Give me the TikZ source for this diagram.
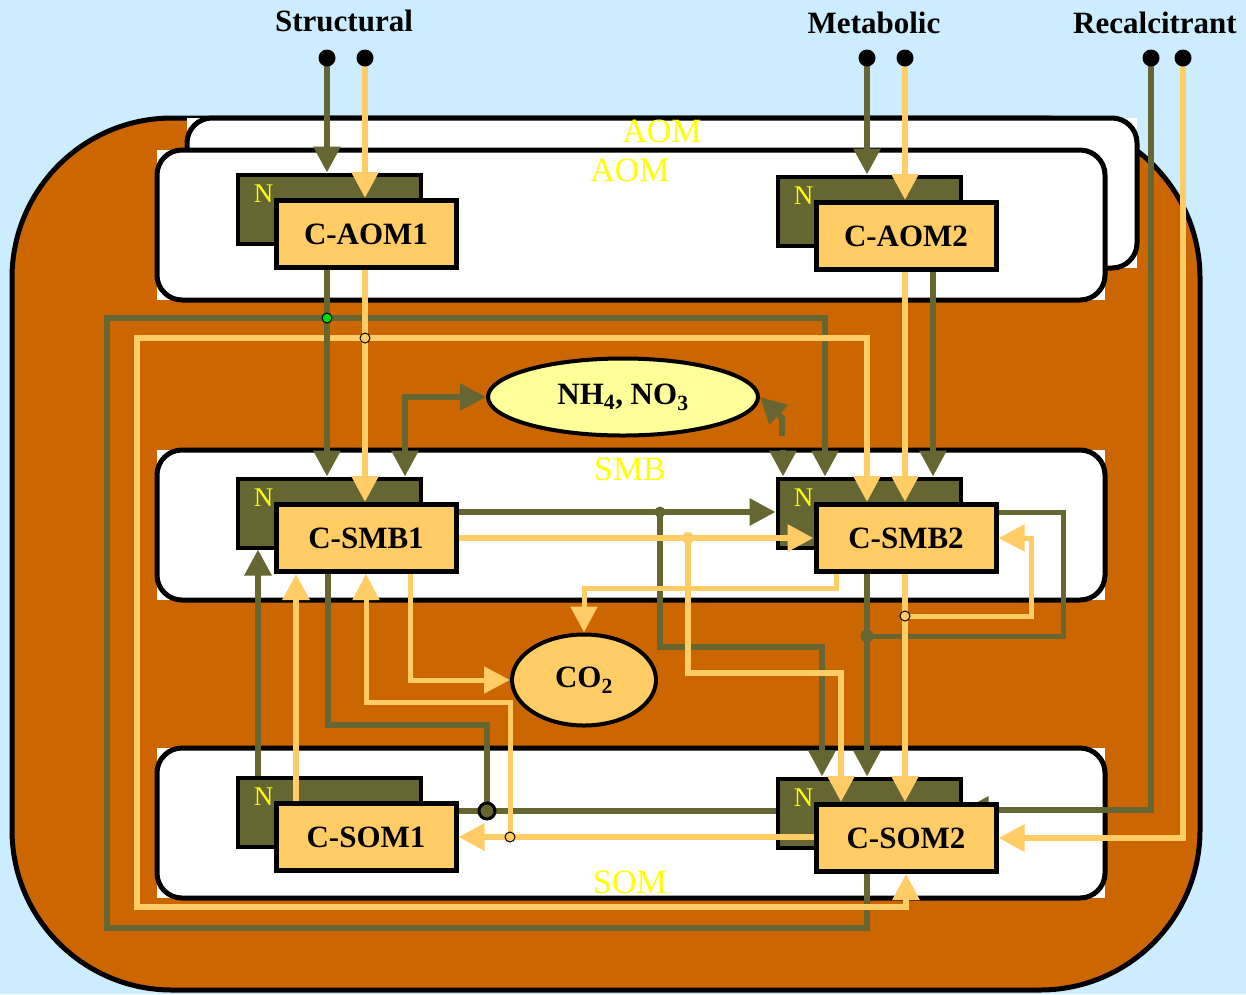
\documentclass[tikz,border=0pt]{standalone}
\usepackage{fontspec}
\setmainfont{Liberation Serif}
\usetikzlibrary{arrows.meta,shapes.geometric,calc}
\definecolor{skyb}{RGB}{204,236,255}
\definecolor{rust}{RGB}{204,102,0}
\definecolor{olv}{RGB}{102,102,51}
\definecolor{lorg}{RGB}{255,204,102}
\definecolor{lyel}{RGB}{255,255,153}
\definecolor{ylab}{RGB}{255,255,0}
\definecolor{grn}{RGB}{0,220,0}
\begin{document}
\begin{tikzpicture}[x=1pt,y=-1pt,
  Hd/.tip={Triangle[width=26pt,length=26pt]},
  nflow/.style={draw=olv,line width=6pt},
  cflow/.style={draw=lorg,line width=6pt},
  thin/.style={line width=5pt},
  pool/.style={draw=black,line width=5pt,rounded corners=25pt},
  cbox/.style={draw=black,line width=5pt,fill=lorg,minimum width=180pt,minimum height=67pt,inner sep=0pt,font=\fontsize{31}{36}\selectfont\bfseries},
  nbox/.style={draw=black,line width=4pt,fill=olv,minimum width=183pt,minimum height=69pt,inner sep=0pt},
  nlab/.style={text=ylab,inner sep=0pt,font=\fontsize{27}{32}\selectfont},
  plab/.style={text=ylab,inner sep=0pt,font=\fontsize{34}{40}\selectfont},
  head/.style={inner sep=0pt,anchor=base,font=\fontsize{31}{36}\selectfont\bfseries},
  pool2/.style={ellipse,draw=black,line width=4pt,inner sep=0pt,font=\fontsize{31}{36}\selectfont\bfseries}]
\useasboundingbox (0,0) rectangle (1246,994);
\fill[skyb] (0,0) rectangle (1246,994);
% outer soil compartment
\draw[fill=rust,line width=5pt,rounded corners=160pt] (12,118) rectangle (1200,990);
% pools
\fill[white] (187,118) rectangle (1137,268);
\draw[pool,fill=white] (187,118) rectangle (1137,268);
\fill[white] (157,150) rectangle (1105,300);
\draw[pool,fill=white] (157,150) rectangle (1105,300);
\fill[white] (157,450) rectangle (1105,600);
\draw[pool,fill=white] (157,450) rectangle (1105,600);
\fill[white] (157,748) rectangle (1105,898);
\draw[pool,fill=white] (157,748) rectangle (1105,898);
\node[plab] (lAOMb) at (662,131) {AOM};
\node[plab] (lAOM) at (630,170) {AOM};
\node[plab] (lSMB) at (630,469) {SMB};
\node[plab] (lSOM) at (630,882) {SOM};
% positions of C pools
\coordinate (pAOM1) at (366,234);
\coordinate (pAOM2) at (906,236);
\coordinate (pSMB1) at (366,538);
\coordinate (pSMB2) at (906,538);
\coordinate (pSOM1) at (366,837);
\coordinate (pSOM2) at (906,838);
% N pools
\foreach \p in {AOM1,AOM2,SMB1,SMB2,SOM1,SOM2}{
  \node[nbox] (n\p) at ($(p\p)+(-37,-25)$) {};
  \node[nlab] at ($(n\p.north west)+(28,21)$) {N};
}
% mineral N and CO2
\node[pool2,fill=lyel,minimum width=270pt,minimum height=77pt] (nh) at (623,397) {NH\textsubscript{4}, NO\textsubscript{3}};
\node[pool2,fill=lorg,minimum width=144pt,minimum height=91pt] (co2) at (584,680) {CO\textsubscript{2}};
% input points
\coordinate (dS1) at (327,58);
\coordinate (dS2) at (365,58);
\coordinate (dM1) at (867,58);
\coordinate (dM2) at (905,58);
\coordinate (dR1) at (1151,58);
\coordinate (dR2) at (1183,58);
% C pools as nodes (drawn later) -- reserve names
\path (pAOM1) node[cbox,draw=none,fill=none,text opacity=0] (cAOM1) {C-AOM1};
\path (pAOM2) node[cbox,draw=none,fill=none,text opacity=0] (cAOM2) {C-AOM2};
\path (pSMB1) node[cbox,draw=none,fill=none,text opacity=0] (cSMB1) {C-SMB1};
\path (pSMB2) node[cbox,draw=none,fill=none,text opacity=0] (cSMB2) {C-SMB2};
\path (pSOM1) node[cbox,draw=none,fill=none,text opacity=0] (cSOM1) {C-SOM1};
\path (pSOM2) node[cbox,draw=none,fill=none,text opacity=0] (cSOM2) {C-SOM2};
% inputs
\draw[nflow,-Hd] (dS1) -- (dS1 |- nAOM1.north);
\draw[cflow,-Hd] (dS2) -- (dS2 |- cAOM1.north);
\draw[nflow,-Hd] (dM1) -- (dM1 |- nAOM2.north);
\draw[cflow,-Hd] (dM2) -- (dM2 |- cAOM2.north);
\draw[nflow,-Hd] (dR1) |- ([yshift=3pt]nSOM2.east);
\draw[cflow,-Hd] (dR2) |- (cSOM2.east);
% long loops SOM2 <-> SMB2
\draw[nflow,-Hd] (867,0 |- cSOM2.south) |- (107,928) |- (825,318) -- (825,0 |- nSMB2.north);
\draw[cflow,Hd-Hd] (867,0 |- cSMB2.north) -- (867,338) -| (137,907) -| (cSOM2.south);
% AOM -> SMB
\draw[nflow,-Hd] (dS1 |- cAOM1.south) -- (dS1 |- nSMB1.north);
\draw[cflow,-Hd] (dS2 |- cAOM1.south) -- (dS2 |- cSMB1.north);
\draw[cflow,-Hd] (dM2 |- cAOM2.south) -- (dM2 |- cSMB2.north);
\draw[nflow,-Hd] (933,0 |- cAOM2.south) -- (933,0 |- nSMB2.north);
% mineral N exchange
\draw[nflow,Hd-Hd] (405,0 |- nSMB1.north) |- (nh.west);
\draw[nflow,-Hd] (782,436) -- (782,418) -- (nh.east);
\draw[nflow,-Hd] (783,450) -- (783,0 |- nSMB2.north);
% SMB1 -> SMB2 and SOM2
\draw[nflow,-Hd] (cSMB1.east |- 0,512) -- (nSMB2.west |- 0,512);
\draw[nflow,-Hd] (660,512) |- (822,647) -- (822,0 |- nSOM2.north);
\draw[cflow,-Hd] (cSMB1.east) -- (cSMB2.west);
\draw[cflow,-Hd] (688,538) |- (841,673) -- (841,0 |- cSOM2.north);
% respiration
\draw[cflow,thin,-Hd] (410,0 |- cSMB1.south) |- (co2.west);
\draw[cflow,thin,-Hd] (836,0 |- cSMB2.south) -- (836,588) -| (co2.north);
% SMB1 <-> SOM1
\draw[nflow] (328,0 |- cSMB1.south) |- (487,725) -- (487,811);
\draw[nflow] (cSOM1.east |- 0,811) -- (nSOM2.west |- 0,811);
\draw[nflow,-Hd] (258,0 |- nSOM1.north) -- (258,0 |- nSMB1.south);
\draw[cflow,-Hd] (296,0 |- cSOM1.north) -- (296,0 |- cSMB1.south);
% SOM2 -> SOM1, SMB1
\draw[cflow,-Hd] (cSOM2.west |- cSOM1.east) -- (cSOM1.east);
\draw[cflow,thin,-Hd] (510,837) |- (366,702) -- (cSMB1.south);
% SMB2 -> SOM2 and recycling
\draw[nflow,-Hd] (867,0 |- cSMB2.south) -- (867,0 |- nSOM2.north);
\draw[nflow,thin] (cSMB2.east |- 0,512) -| (1063,636) -- (867,636);
\draw[cflow,-Hd] (905,0 |- cSMB2.south) -- (905,0 |- cSOM2.north);
\draw[cflow,thin,-Hd] (905,616) -| (1031,538) -- (cSMB2.east);
% junction markers
\filldraw[fill=grn,draw=black,line width=1pt] (327,318) circle (5pt);
\filldraw[fill=lorg,draw=black,line width=1pt] (365,338) circle (5pt);
\fill[olv] (660,512) circle (5.5pt);
\fill[lorg] (688,538) circle (6pt);
\fill[olv] (867,636) circle (6.5pt);
\filldraw[fill=lorg,draw=black,line width=1pt] (905,616) circle (5pt);
\filldraw[fill=olv,draw=black,line width=3pt] (487,811) circle (8pt);
\filldraw[fill=lorg,draw=black,line width=1pt] (510,837) circle (5pt);
% C pools on top
\node[cbox] at (cAOM1) {C-AOM1};
\node[cbox] at (cAOM2) {C-AOM2};
\node[cbox] at (cSMB1) {C-SMB1};
\node[cbox] at (cSMB2) {C-SMB2};
\node[cbox] at (cSOM1) {C-SOM1};
\node[cbox] at (cSOM2) {C-SOM2};
% input dots and headers
\foreach \d in {dS1,dS2,dM1,dM2,dR1,dR2}{\fill[black] (\d) circle (8.5pt);}
\node[head] (hS) at (344,31) {Structural};
\node[head] (hM) at (874,33) {Metabolic};
\node[head] (hR) at (1155,33) {Recalcitrant};
\end{tikzpicture}
\end{document}
